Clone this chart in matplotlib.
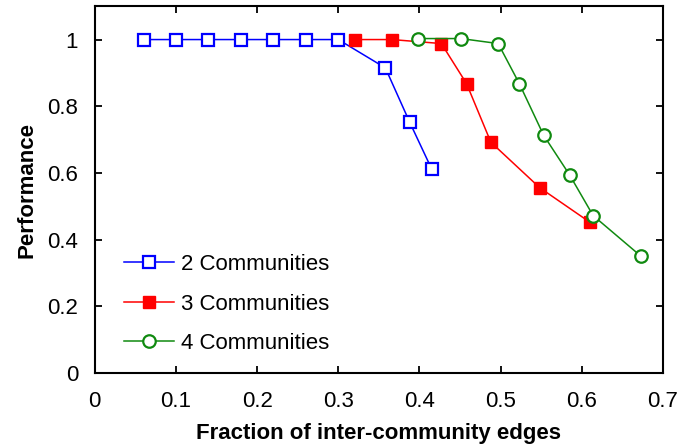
import matplotlib
matplotlib.use('Agg')
import matplotlib.pyplot as plt
from matplotlib.ticker import FuncFormatter

plt.rcParams['font.family'] = ['Liberation Sans', 'DejaVu Sans']

# fraction of inter-community edges vs performance
x_two = [0.06, 0.10, 0.14, 0.18, 0.22, 0.26, 0.30, 0.358, 0.388, 0.415]
y_two = [1.0, 1.0, 1.0, 1.0, 1.0, 1.0, 1.0, 0.915, 0.752, 0.612]

x_three = [0.32, 0.366, 0.427, 0.458, 0.488, 0.548, 0.61]
y_three = [1.0, 1.0, 0.988, 0.868, 0.692, 0.556, 0.452]

x_four = [0.398, 0.451, 0.497, 0.523, 0.553, 0.585, 0.614, 0.673]
y_four = [1.003, 1.003, 0.988, 0.868, 0.713, 0.594, 0.472, 0.35]

labels = ['2 Communities', '3 Communities', '4 Communities']


def fmt(v, pos):
    return f'{v:g}'


fig = plt.figure(figsize=(6.92, 4.44), dpi=100)
ax = fig.add_axes([0.137, 0.160, 0.821, 0.826])

ax.plot(x_two, y_two, color='#0000ff', lw=1.1, marker='s', ms=8,
        mfc='white', mec='#0000ff', mew=1.6, label=labels[0])
ax.plot(x_three, y_three, color='#ff0000', lw=1.1, marker='s', ms=8,
        mfc='#ff0000', mec='#ff0000', mew=1.0, label=labels[1])
ax.plot(x_four, y_four, color='#108a10', lw=1.1, marker='o', ms=9,
        mfc='white', mec='#108a10', mew=1.6, label=labels[2])

ax.set_xlim(0, 0.7)
ax.set_ylim(0, 1.1)
ax.set_xticks([0, 0.1, 0.2, 0.3, 0.4, 0.5, 0.6, 0.7])
ax.set_yticks([0, 0.2, 0.4, 0.6, 0.8, 1.0])
ax.xaxis.set_major_formatter(FuncFormatter(fmt))
ax.yaxis.set_major_formatter(FuncFormatter(fmt))
ax.tick_params(direction='in', top=True, right=True, length=5, width=1.3,
               labelsize=16)
ax.tick_params(axis='x', pad=13)
ax.tick_params(axis='y', pad=12)
for s in ax.spines.values():
    s.set_linewidth(1.5)

ax.set_xlabel('Fraction of inter-community edges', fontsize=16,
              fontweight='bold', labelpad=8)
ax.set_ylabel('Performance', fontsize=16, fontweight='bold', labelpad=7)

ax.legend(loc='lower left', bbox_to_anchor=(0.017, -0.003), frameon=False,
          fontsize=16, handlelength=2.25, labelspacing=0.83, handletextpad=0.3)

fig.savefig('out.png', dpi=100)
